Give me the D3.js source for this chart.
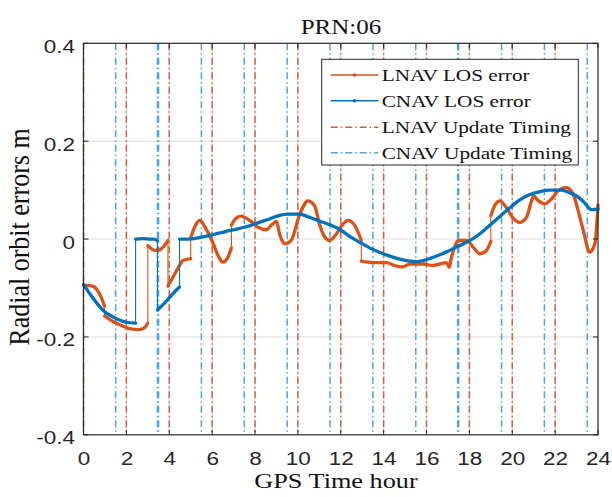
<!DOCTYPE html>
<html>
<head>
<meta charset="utf-8">
<script src="https://cdn.jsdelivr.net/npm/d3@7"></script>
<style>
    body { margin: 0; background: #fff; }
    svg { display: block; font-family: "Liberation Serif", "Times New Roman", serif; }
</style>
</head>
<body>
<div id="chart"></div>
<script>
const title = 'PRN:06'
const xLabel = 'GPS Time hour'
const yLabel = 'Radial orbit errors m'
const xTicks = [0, 2, 4, 6, 8, 10, 12, 14, 16, 18, 20, 22, 24]
const yTicks = [-0.4, -0.2, 0, 0.2, 0.4]

const lnavUpdate = [0, 2, 4, 6, 8, 10, 12, 14, 16, 18, 20, 22]
const cnavUpdate = [1.5, 3.45, 3.5, 5.5, 7.5, 9.5, 11.5, 13.5, 15.5, 17.45, 17.5, 19.5, 21.5, 23.5]

// repeated hour = step in the broadcast ephemeris
const lnavHour = [
    0, 0.43, 0.75, 0.98, 0.98, 1.25, 1.53, 1.85, 2.15, 2.6, 2.85, 3.0,
    3.0, 3.31, 3.55, 3.8, 3.94, 3.94, 4.25, 4.48, 4.64, 5.0,
    5.0, 5.2, 5.42, 5.7, 6.04, 6.3, 6.5, 6.75, 6.9,
    6.9, 7.1, 7.36, 7.75, 8.14, 8.53, 8.8, 9.0, 9.15, 9.4, 9.7, 10.08, 10.47, 10.78, 11.0,
    11.17, 11.48, 11.8, 12.1, 12.34, 12.65, 12.96,
    12.96, 13.5, 14.13, 14.5, 14.9, 15.22, 15.84, 16.3, 16.7, 16.93, 17.06,
    17.15, 17.3, 17.48, 17.87, 18.17, 18.49, 18.8, 19.0,
    19.0, 19.2, 19.42, 19.73, 20.05, 20.35, 20.67, 20.9, 21.0, 21.2, 21.52, 21.83,
    22.2, 22.53, 22.84, 23.05, 23.3, 23.62, 23.86, 24.0
]
const lnavError = [
    -0.094, -0.096, -0.112, -0.137, -0.157, -0.165, -0.172, -0.178, -0.183, -0.185, -0.181, -0.172,
    -0.013, -0.023, -0.022, -0.012, -0.003, -0.096, -0.072, -0.054, -0.044, -0.04,
    0.002, 0.026, 0.038, 0.022, -0.008, -0.036, -0.047, -0.036, -0.018,
    0.028, 0.042, 0.047, 0.038, 0.024, 0.019, 0.03, 0.036, 0.01, -0.01, -0.002, 0.05, 0.078, 0.068, 0.032,
    0.011, -0.003, 0.011, 0.03, 0.038, 0.028, -0.003,
    -0.045, -0.048, -0.048, -0.054, -0.057, -0.051, -0.051, -0.054, -0.05, -0.048, -0.058,
    -0.04, -0.018, -0.003, -0.003, -0.016, -0.03, -0.023, -0.005,
    0.048, 0.07, 0.078, 0.064, 0.042, 0.034, 0.045, 0.078, 0.088, 0.079, 0.072, 0.082,
    0.101, 0.105, 0.092, 0.062, 0.02, -0.027, -0.008, 0.07
]

const cnavHour = [
    0, 0.4, 0.75, 1.0, 1.37, 1.7, 2.0, 2.43,
    2.43, 2.8, 3.1, 3.3, 3.45,
    3.45, 3.8, 4.1, 4.48,
    4.48, 4.95, 5.4, 5.88, 6.3, 6.8, 7.3, 7.75, 8.2, 8.68, 9.1, 9.54, 10.08, 10.5, 11.0, 11.5,
    11.95, 12.4, 12.9, 13.35, 13.8, 14.29, 14.75, 15.22, 15.6, 15.84, 16.2, 16.62, 17.0, 17.4,
    17.8, 18.17, 18.55, 18.95, 19.42, 19.89, 20.35, 20.82, 21.3, 21.76, 22.3, 22.6, 23.0,
    23.35, 23.7, 24.0
]
const cnavError = [
    -0.093, -0.118, -0.138, -0.149, -0.159, -0.166, -0.17, -0.172,
    0.0, 0.001, 0.0, 0.0, -0.003,
    -0.145, -0.13, -0.115, -0.098,
    0.0, 0.0, 0.003, 0.007, 0.012, 0.017, 0.022, 0.027, 0.034, 0.041, 0.048, 0.051, 0.051, 0.045, 0.037, 0.029,
    0.02, 0.006, -0.007, -0.018, -0.027, -0.035, -0.041, -0.045, -0.046, -0.044, -0.039, -0.032, -0.025, -0.016,
    -0.008, 0.001, 0.013, 0.028, 0.046, 0.064, 0.08, 0.091, 0.097, 0.1, 0.1, 0.096, 0.088,
    0.075, 0.06, 0.061
]

const legendItems = ['LNAV LOS error', 'CNAV LOS error', 'LNAV Update Timing', 'CNAV Update Timing']

const width = 612
const height = 497
const margin = { top: 43.3, right: 14, bottom: 62.2, left: 83.5 }
const stretch = 1.25
const axisColour = '#262626'
const lnavColour = '#D95319'
const cnavColour = '#0072BD'
const lnavUpdateColour = '#D0603F'
const cnavUpdateColour = '#4DA3DD'
const dashDot = '7,3,1.5,3'

const svg = d3.select('#chart')
    .append('svg')
    .attr('width', width)
    .attr('height', height)

const x = d3.scaleLinear().domain([0, 24]).range([margin.left, width - margin.right])
const y = d3.scaleLinear().domain([-0.4, 0.4]).range([height - margin.bottom, margin.top])

const [x0, x1] = x.range()
const [y0, y1] = y.range()

// grid
svg.append('g')
    .selectAll('line')
    .data(yTicks.slice(1, -1))
    .join('line')
    .attr('x1', x0).attr('x2', x1)
    .attr('y1', d => y(d)).attr('y2', d => y(d))
    .attr('stroke', '#dfdfdf')
    .attr('stroke-width', 1)

svg.append('g')
    .selectAll('line')
    .data(xTicks.slice(1, -1))
    .join('line')
    .attr('x1', d => x(d)).attr('x2', d => x(d))
    .attr('y1', y0).attr('y2', y1)
    .attr('stroke', '#dfdfdf')
    .attr('stroke-width', 1)

// update timing lines
const addTimingLines = (hours, colour) => {
    svg.append('g')
        .selectAll('line')
        .data(hours)
        .join('line')
        .attr('x1', d => x(d)).attr('x2', d => x(d))
        .attr('y1', y1).attr('y2', y0)
        .attr('stroke', colour)
        .attr('stroke-width', 1.5)
        .attr('stroke-dasharray', dashDot)
}
addTimingLines(lnavUpdate, lnavUpdateColour)
addTimingLines(cnavUpdate, cnavUpdateColour)

// error curves
const splitSegments = (hours, values) => {
    const segments = [[]]
    hours.forEach((h, i) => {
        if (i > 0 && h === hours[i - 1]) segments.push([])
        segments[segments.length - 1].push([h, values[i]])
    })
    return segments
}

const addSeries = (hours, values, colour) => {
    const points = hours.map((h, i) => [h, values[i]])
    const segments = splitSegments(hours, values)
    const thin = d3.line().x(d => x(d[0])).y(d => y(d[1]))
    const smooth = d3.line().x(d => x(d[0])).y(d => y(d[1])).curve(d3.curveMonotoneX)

    svg.append('path')
        .attr('d', thin(points))
        .attr('fill', 'none')
        .attr('stroke', colour)
        .attr('stroke-width', 1.1)

    svg.append('g')
        .selectAll('path')
        .data(segments)
        .join('path')
        .attr('d', smooth)
        .attr('fill', 'none')
        .attr('stroke', colour)
        .attr('stroke-width', 3.3)
        .attr('stroke-linejoin', 'round')
        .attr('stroke-linecap', 'round')
}
addSeries(lnavHour, lnavError, lnavColour)
addSeries(cnavHour, cnavError, cnavColour)

// axes
svg.append('g')
    .attr('transform', `translate(0, ${y0})`)
    .style('font-size', '18px')
    .call(d3.axisBottom(x).tickValues(xTicks).tickSize(0).tickPadding(17).tickFormat(d => String(d)))
    .call(g => g.select('.domain').remove())
    .call(g => g.selectAll('text').attr('fill', axisColour).attr('transform', `scale(${stretch},1)`))

svg.append('g')
    .attr('transform', `translate(${x0}, 0)`)
    .style('font-size', '18px')
    .call(d3.axisLeft(y).tickValues(yTicks).tickSize(0).tickPadding(8.5 / stretch).tickFormat(d => String(d)))
    .call(g => g.select('.domain').remove())
    .call(g => g.selectAll('text')
        .attr('fill', axisColour)
        .attr('dy', '0.5em')
        .attr('transform', `scale(${stretch},1)`))

// inward tick marks
const tickLength = 5
const ticks = svg.append('g').attr('stroke', axisColour).attr('stroke-width', 1)
xTicks.forEach(d => {
    ticks.append('line').attr('x1', x(d)).attr('x2', x(d)).attr('y1', y0).attr('y2', y0 - tickLength)
    ticks.append('line').attr('x1', x(d)).attr('x2', x(d)).attr('y1', y1).attr('y2', y1 + tickLength)
})
yTicks.forEach(d => {
    ticks.append('line').attr('x1', x0).attr('x2', x0 + tickLength).attr('y1', y(d)).attr('y2', y(d))
    ticks.append('line').attr('x1', x1).attr('x2', x1 - tickLength).attr('y1', y(d)).attr('y2', y(d))
})

svg.append('rect')
    .attr('x', x0).attr('y', y1)
    .attr('width', x1 - x0).attr('height', y0 - y1)
    .attr('fill', 'none')
    .attr('stroke', axisColour)
    .attr('stroke-width', 1.2)

// legend
const legend = svg.append('g').attr('transform', 'translate(321.7, 59.3)')
legend.append('rect')
    .attr('width', 256.6).attr('height', 105.7)
    .attr('fill', '#fff')
    .attr('stroke', axisColour)
    .attr('stroke-width', 1)

const legendStyles = [
    { colour: lnavColour, dash: null, marker: true, width: 1.6 },
    { colour: cnavColour, dash: null, marker: true, width: 1.6 },
    { colour: lnavUpdateColour, dash: dashDot, marker: false, width: 1.5 },
    { colour: cnavUpdateColour, dash: dashDot, marker: false, width: 1.5 }
]
const rowY = [15.7, 41.4, 68, 93.4]

legendItems.forEach((label, i) => {
    const s = legendStyles[i]
    const row = legend.append('g').attr('transform', `translate(0, ${rowY[i]})`)
    row.append('line')
        .attr('x1', 9).attr('x2', 56.6)
        .attr('stroke', s.colour)
        .attr('stroke-width', s.width)
        .attr('stroke-dasharray', s.dash)
    if (s.marker) row.append('circle').attr('cx', 32.8).attr('r', 1.8).attr('fill', s.colour)
    row.append('text')
        .attr('transform', `translate(60, 0) scale(${stretch},1)`)
        .attr('dy', '0.35em')
        .style('font-size', '17px')
        .attr('fill', '#111')
        .text(label)
})

// titles
svg.append('text')
    .attr('transform', `translate(341, 34) scale(${stretch},1)`)
    .attr('text-anchor', 'middle')
    .style('font-size', '20px')
    .attr('fill', '#111')
    .text(title)

svg.append('text')
    .attr('transform', `translate(336, 488) scale(${stretch},1)`)
    .attr('text-anchor', 'middle')
    .style('font-size', '21px')
    .attr('fill', '#111')
    .text(xLabel)

svg.append('text')
    .attr('transform', 'translate(20, 237) scale(1.12,1) rotate(-90)')
    .attr('text-anchor', 'middle')
    .attr('dy', '0.32em')
    .style('font-size', '26px')
    .attr('fill', '#111')
    .text(yLabel)
</script>
</body>
</html>
